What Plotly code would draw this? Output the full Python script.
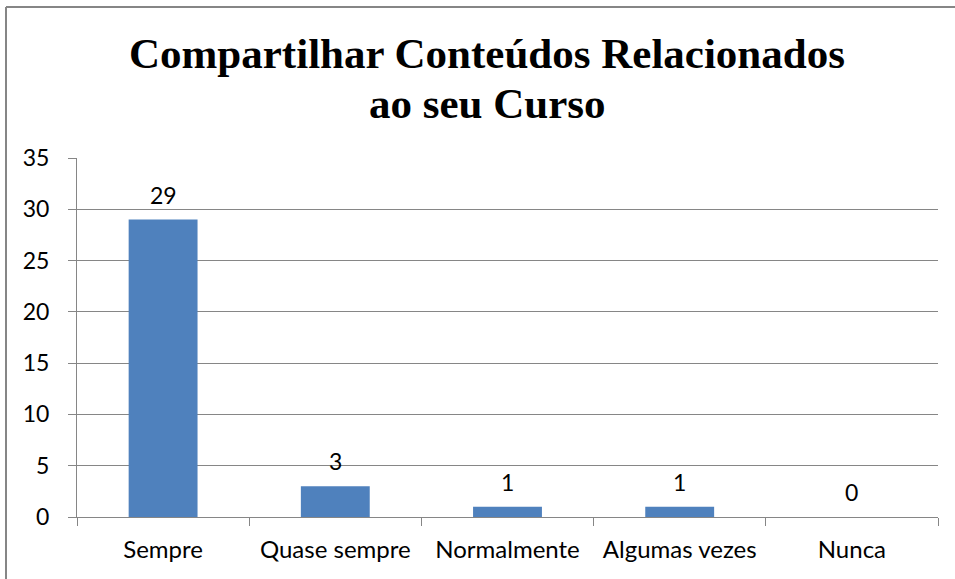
import plotly.graph_objects as go

# dados do grafico
categorias = ["Sempre", "Quase sempre", "Normalmente", "Algumas vezes", "Nunca"]
valores = [29, 3, 1, 1, 0]
titulo_linhas = ["Compartilhar Conteúdos Relacionados", "ao seu Curso"]
y_ticks = [0, 5, 10, 15, 20, 25, 30, 35]

W, H = 955, 579
ml, mr, mt, mb = 77, 17, 158, 62
pw = W - ml - mr
ph = H - mt - mb
fonte = "Lato, Open Sans, sans-serif"
cinza = "#868686"

def px_x(x):
    return (x - ml) / pw

def px_y(y):
    return (H - mb - y) / ph

fig = go.Figure()
fig.add_trace(go.Bar(
    x=categorias,
    y=valores,
    marker=dict(color="#4F81BD", line=dict(width=0)),
    width=0.4,
    hoverinfo="skip",
))

# rotulos de dados acima das barras
anots = []
for c, v in zip(categorias, valores):
    anots.append(dict(x=c, y=v, xref="x", yref="y", text=str(v), showarrow=False,
                      yanchor="bottom", yshift=9,
                      font=dict(family=fonte, size=23, color="black")))

# titulo em duas linhas
for txt, yy in zip(titulo_linhas, [54, 103]):
    anots.append(dict(x=px_x(487), y=px_y(yy), xref="paper", yref="paper", text=txt,
                      showarrow=False, xanchor="center", yanchor="middle",
                      font=dict(family="Liberation Serif, Times New Roman, serif",
                                size=43, color="black", weight="bold")))

fig.update_layout(
    width=W, height=H,
    margin=dict(l=ml, r=mr, t=mt, b=mb),
    plot_bgcolor="white",
    paper_bgcolor="white",
    showlegend=False,
    font=dict(family=fonte, size=23, color="black"),
    xaxis=dict(
        showline=True, linecolor=cinza, linewidth=1,
        ticks="outside", tickson="boundaries", ticklen=8, tickcolor=cinza,
        showgrid=False,
        tickfont=dict(size=24),
        ticklabelstandoff=11,
    ),
    yaxis=dict(
        range=[0, 35], tickvals=y_ticks,
        showline=True, linecolor=cinza, linewidth=1,
        ticks="outside", ticklen=8, tickcolor=cinza,
        showgrid=True, gridcolor=cinza, gridwidth=1,
        zeroline=False,
        tickfont=dict(size=23),
        ticklabelstandoff=14,
    ),
    annotations=anots,
    shapes=[
        dict(type="line", xref="paper", yref="paper",
             x0=px_x(6), x1=px_x(960), y0=px_y(7), y1=px_y(7),
             line=dict(color=cinza, width=2)),
        dict(type="line", xref="paper", yref="paper",
             x0=px_x(6), x1=px_x(6), y0=px_y(7), y1=px_y(590),
             line=dict(color=cinza, width=2)),
    ],
)

fig.write_html("out.html", config={"displayModeBar": False},
               post_script="document.body.style.margin='0';")
